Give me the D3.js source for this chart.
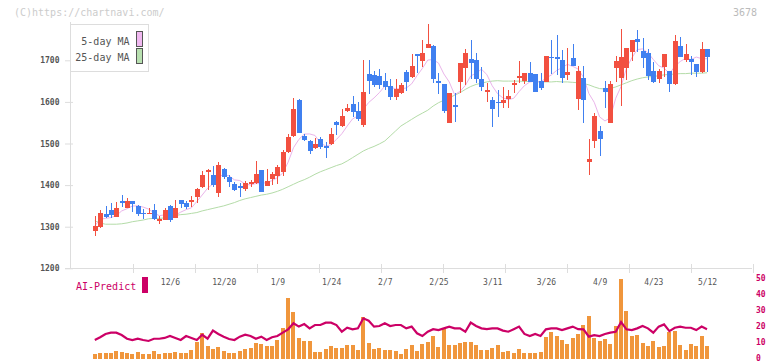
<!DOCTYPE html>
<html>
<head>
<meta charset="utf-8">
<script src="https://cdn.jsdelivr.net/npm/d3@7"></script>
<style>
  html, body { margin: 0; padding: 0; background: #fff; }
  svg { display: block; }
  text { font-family: "DejaVu Sans Mono", monospace; }
</style>
</head>
<body>
<svg id="chart" width="772" height="361"></svg>
<script>
// ---- data ----
const dates = [
  "11/18","11/19","11/20","11/21","11/22","11/25","11/26","11/27","11/28","11/29",
  "12/2","12/3","12/4","12/5","12/6","12/9","12/10","12/11","12/12","12/13",
  "12/16","12/17","12/18","12/19","12/20","12/23","12/24","12/25","12/26","12/27",
  "12/30","1/6","1/7","1/8","1/9","1/10","1/14","1/15","1/16","1/17",
  "1/20","1/21","1/22","1/23","1/24","1/27","1/28","1/29","1/30","1/31",
  "2/3","2/4","2/5","2/6","2/7","2/10","2/12","2/13","2/14","2/17",
  "2/18","2/19","2/20","2/21","2/25","2/26","2/27","2/28","3/3","3/4",
  "3/5","3/6","3/7","3/10","3/11","3/12","3/13","3/14","3/17","3/18",
  "3/19","3/21","3/24","3/25","3/26","3/27","3/28","3/31","4/1","4/2",
  "4/3","4/4","4/7","4/8","4/9","4/10","4/11","4/14","4/15","4/16",
  "4/17","4/18","4/21","4/22","4/23","4/24","4/25","4/28","4/30","5/1",
  "5/2","5/7","5/8","5/9","5/12"
];
const open = [
  1290,1300,1330,1340,1324,1362,1346,1362,1350,1334,
  1330,1341,1315,1316,1350,1320,1364,1358,1359,1372,
  1396,1432,1424,1382,1439,1419,1402,1398,1390,1404,
  1406,1436,1399,1414,1423,1431,1480,1519,1605,1518,
  1506,1490,1511,1494,1500,1551,1542,1578,1595,1578,
  1544,1668,1665,1662,1650,1638,1612,1622,1672,1661,
  1714,1699,1730,1735,1651,1643,1550,1592,1649,1681,
  1702,1701,1655,1625,1605,1600,1597,1606,1641,1659,
  1651,1669,1667,1651,1649,1709,1709,1701,1665,1706,
  1607,1657,1456,1507,1530,1633,1550,1682,1658,1681,
  1721,1751,1722,1717,1674,1654,1685,1674,1642,1734,
  1701,1703,1690,1671,1727
];
const high = [
  1326,1340,1350,1358,1359,1376,1369,1362,1351,1342,
  1345,1355,1326,1344,1351,1364,1365,1362,1374,1392,
  1434,1439,1446,1455,1441,1424,1407,1406,1410,1412,
  1458,1437,1438,1432,1448,1484,1522,1610,1606,1524,
  1508,1514,1516,1503,1538,1554,1583,1596,1614,1600,
  1700,1700,1675,1680,1670,1655,1656,1645,1676,1716,
  1715,1750,1787,1736,1669,1644,1622,1621,1693,1726,
  1749,1717,1685,1645,1611,1629,1635,1629,1653,1698,
  1669,1697,1668,1670,1710,1750,1761,1725,1730,1738,
  1687,1687,1511,1573,1543,1650,1650,1710,1775,1730,
  1750,1773,1753,1727,1697,1680,1714,1675,1761,1757,
  1738,1710,1691,1743,1728
];
const low = [
  1278,1298,1322,1322,1324,1347,1345,1336,1326,1318,
  1330,1316,1306,1316,1312,1320,1344,1342,1347,1358,
  1392,1388,1396,1372,1414,1396,1386,1372,1386,1396,
  1403,1383,1398,1400,1402,1423,1478,1516,1525,1506,
  1475,1487,1487,1465,1496,1520,1540,1576,1564,1554,
  1540,1619,1635,1632,1628,1605,1605,1618,1627,1657,
  1669,1685,1730,1645,1618,1574,1550,1552,1621,1641,
  1654,1645,1627,1600,1539,1563,1586,1586,1621,1645,
  1643,1649,1624,1629,1649,1667,1665,1645,1653,1686,
  1581,1550,1424,1490,1471,1586,1550,1649,1591,1653,
  1698,1721,1682,1653,1645,1645,1661,1623,1640,1707,
  1697,1665,1661,1670,1673
];
const close = [
  1302,1334,1324,1328,1345,1358,1362,1355,1331,1330,
  1334,1319,1318,1341,1315,1346,1355,1348,1363,1391,
  1424,1436,1400,1448,1419,1408,1388,1392,1406,1407,
  1426,1384,1410,1426,1444,1480,1516,1583,1526,1508,
  1482,1498,1492,1490,1524,1545,1566,1585,1576,1558,
  1624,1650,1640,1640,1636,1612,1630,1640,1649,1686,
  1710,1718,1740,1654,1645,1579,1622,1587,1693,1717,
  1693,1655,1635,1629,1582,1597,1605,1614,1645,1662,
  1669,1649,1625,1633,1710,1706,1704,1658,1673,1686,
  1674,1605,1463,1567,1511,1625,1643,1698,1709,1730,
  1749,1743,1706,1663,1649,1674,1714,1642,1746,1709,
  1714,1697,1673,1727,1708
];
const ma25 = [
  1314,1309,1306,1306,1306,1307,1309,1312,1314,1316,
  1319,1320,1320,1321,1325,1327,1329,1330,1332,1334,
  1338,1341,1344,1347,1350,1354,1358,1363,1367,1370,
  1373,1376,1378,1381,1385,1390,1396,1402,1408,1413,
  1419,1426,1432,1437,1442,1447,1451,1458,1466,1474,
  1482,1488,1493,1499,1506,1518,1530,1542,1550,1558,
  1566,1573,1580,1590,1598,1604,1610,1616,1622,1630,
  1637,1642,1645,1648,1650,1651,1650,1650,1650,1650,
  1649,1649,1649,1648,1648,1648,1649,1648,1648,1647,
  1646,1644,1641,1636,1632,1631,1632,1636,1641,1646,
  1651,1655,1658,1660,1661,1663,1665,1666,1667,1668,
  1668,1669,1669,1669,1670
];
const volume = [
  15,18,18,18,24,21,18,15,21,15,
  15,24,15,18,18,21,17,18,27,51,
  78,39,30,35,24,18,18,24,30,33,
  48,45,39,39,57,93,183,141,63,54,
  54,21,21,30,39,33,33,42,42,27,
  125,48,30,33,27,27,24,15,30,42,
  24,45,51,69,36,90,42,42,48,51,
  51,42,27,27,33,42,21,24,18,30,
  18,18,18,21,66,81,69,57,45,63,
  75,101,129,63,54,60,45,98,240,144,
  69,72,48,39,54,36,39,81,84,42,
  27,45,39,69,39
];
const aiPredict = [
  11.1,12.8,14.9,15.7,15.7,14.2,11.9,11.1,11.9,11.1,
  10.5,11.9,11.9,12.4,13.6,12.4,11.1,13.6,12.4,11.1,
  14.4,11.9,17.0,14.9,13.2,11.7,11.1,13.2,14.4,13.6,
  11.9,13.2,11.1,12.8,13.6,15.7,17.8,21.6,19.5,21.1,
  18.4,20.5,20.5,22.0,22.0,20.5,16.3,18.8,17.8,18.4,
  24.7,23.2,19.5,19.9,21.6,19.9,20.5,20.5,18.4,19.5,
  15.3,13.6,16.3,17.9,17.3,18.4,19.5,18.4,18.4,16.3,
  22.0,19.9,18.4,17.9,18.4,18.4,17.0,16.3,17.9,19.5,
  14.9,13.6,14.9,13.6,17.8,18.4,18.4,17.3,18.4,19.5,
  17.9,17.8,13.2,14.1,13.6,14.9,15.7,16.3,22.4,17.8,
  17.3,18.4,19.9,18.4,15.7,19.5,20.9,16.7,18.8,19.5,
  18.8,18.8,17.3,19.5,17.9
];
const priceTicks = [1200,1300,1400,1500,1600,1700];
const dateTicks = ["12/6","12/20","1/9","1/24","2/7","2/25","3/11","3/26","4/9","4/23","5/12"];
const aiTicks = [0,10,20,30,40,50];
const legendItems = ["5-day MA","25-day MA"];
const tickerCode = "3678";

// ---- derived ----
const ma5 = close.map((c, i) => d3.mean(close.slice(Math.max(0, i - 4), i + 1)));

// ---- styles ----
const UP = "#f25040", DOWN = "#4080f0";
const AXIS = "#dddddd";
const AI = "#cc0066";

const svg = d3.select("#chart");

// scales
const x = d3.scalePoint().domain(dates).range([94.8, 707]);
const y = d3.scaleLinear().domain([1200, 1700]).range([268.3, 60.3]);
const yAI = d3.scaleLinear().domain([0, 50]).range([357.7, 278]);
const yVol = d3.scaleLinear().domain([0, 240]).range([359, 279]);

// watermark + code
svg.append("text").attr("x", 14).attr("y", 16).attr("font-size", 10)
  .attr("fill", "#cccccc").text("(C)https://chartnavi.com/");
svg.append("text").attr("x", 757).attr("y", 16).attr("font-size", 10)
  .attr("text-anchor", "end").attr("fill", "#bbbbbb").text(tickerCode);

// left axis line
svg.append("line").attr("x1", 70.5).attr("x2", 70.5).attr("y1", 22).attr("y2", 268.5)
  .attr("stroke", AXIS);
// bottom axis line
svg.append("line").attr("x1", 65).attr("x2", 752).attr("y1", 268.5).attr("y2", 268.5)
  .attr("stroke", AXIS);
// bottom ticks (evenly spaced grid marks)
const gridX = d3.scaleLinear().domain([0, 11]).range([70.5, 752.5]);
svg.append("g").selectAll("line").data(d3.range(1, 12)).join("line")
  .attr("x1", d => Math.round(gridX(d)) + 0.5).attr("x2", d => Math.round(gridX(d)) + 0.5)
  .attr("y1", 264).attr("y2", 273).attr("stroke", AXIS);

// price axis
const yAxis = svg.append("g").attr("transform", "translate(73,0)")
  .call(d3.axisLeft(y).tickValues(priceTicks).tickFormat(d3.format("d")).tickSize(8).tickPadding(5.5));
yAxis.select(".domain").remove();
yAxis.selectAll(".tick line").attr("stroke", AXIS);
yAxis.selectAll(".tick text").attr("font-family", "DejaVu Sans Mono").attr("font-size", 8)
  .attr("font-weight", "bold").attr("fill", "#555");

// date axis labels
const xAxis = svg.append("g").attr("transform", "translate(0,279)")
  .call(d3.axisBottom(x).tickValues(dateTicks).tickSize(0).tickPadding(0));
xAxis.select(".domain").remove();
xAxis.selectAll(".tick text").attr("font-family", "DejaVu Sans Mono").attr("font-size", 8)
  .attr("fill", "#555");

// AI axis labels (right)
svg.append("g").selectAll("text").data(aiTicks).join("text")
  .attr("x", 756).attr("y", d => yAI(d)).attr("dy", "0.35em")
  .attr("font-size", 8).attr("font-weight", "bold").attr("fill", AI)
  .text(d => d);

// volume bars
svg.append("g").selectAll("rect").data(volume).join("rect")
  .attr("x", (d, i) => Math.round(x(dates[i]) - 2))
  .attr("width", 4)
  .attr("y", d => yVol(d))
  .attr("height", d => yVol(0) - yVol(d))
  .attr("fill", "#f0963c")
  .attr("shape-rendering", "crispEdges");

// AI predict line
svg.append("path").datum(aiPredict)
  .attr("fill", "none").attr("stroke", AI).attr("stroke-width", 2.2)
  .attr("d", d3.line().x((d, i) => x(dates[i])).y(d => yAI(d)));

// AI-Predict label
svg.append("text").attr("x", 76).attr("y", 286).attr("dy", "0.35em")
  .attr("font-size", 10).attr("fill", AI).text("AI-Predict");
svg.append("rect").attr("x", 142).attr("y", 277).attr("width", 6).attr("height", 16)
  .attr("fill", AI);

// moving averages
svg.append("path").datum(ma25)
  .attr("fill", "none").attr("stroke", "#b4dca8").attr("stroke-width", 1)
  .attr("d", d3.line().x((d, i) => x(dates[i])).y(d => y(d)));
svg.append("path").datum(ma5)
  .attr("fill", "none").attr("stroke", "#eab4ea").attr("stroke-width", 1)
  .attr("d", d3.line().x((d, i) => x(dates[i])).y(d => y(d)));

// candles
const candles = svg.append("g").selectAll("g").data(dates).join("g");
candles.append("line")
  .attr("x1", d => Math.round(x(d)) + 0.5).attr("x2", d => Math.round(x(d)) + 0.5)
  .attr("y1", (d, i) => y(high[i])).attr("y2", (d, i) => y(low[i]))
  .attr("stroke", (d, i) => close[i] >= open[i] ? UP : DOWN)
  .attr("stroke-width", 1).attr("shape-rendering", "crispEdges");
candles.append("rect")
  .attr("x", d => Math.round(x(d)) - 2)
  .attr("width", 5)
  .attr("y", (d, i) => y(Math.max(open[i], close[i])))
  .attr("height", (d, i) => Math.max(1.5, Math.abs(y(open[i]) - y(close[i]))))
  .attr("fill", (d, i) => close[i] >= open[i] ? UP : DOWN)
  .attr("shape-rendering", "crispEdges");

// legend
const lg = svg.append("g");
lg.append("rect").attr("x", 70.5).attr("y", 24.5).attr("width", 78).attr("height", 47)
  .attr("fill", "#fff").attr("stroke", AXIS);
const swatch = ["#f0b8f0", "#b8e0b0"];
lg.selectAll("text.lt").data(legendItems).join("text")
  .attr("class", "lt")
  .attr("x", 129.5).attr("y", (d, i) => 41 + i * 16.5).attr("dy", "0.35em")
  .attr("text-anchor", "end").attr("font-size", 10).attr("fill", "#555").text(d => d);
lg.selectAll("rect.sw").data(legendItems).join("rect")
  .attr("class", "sw")
  .attr("x", 136.5).attr("y", (d, i) => 31.5 + i * 17).attr("width", 6).attr("height", 15)
  .attr("fill", (d, i) => swatch[i]).attr("stroke", "#555");
</script>
</body>
</html>
